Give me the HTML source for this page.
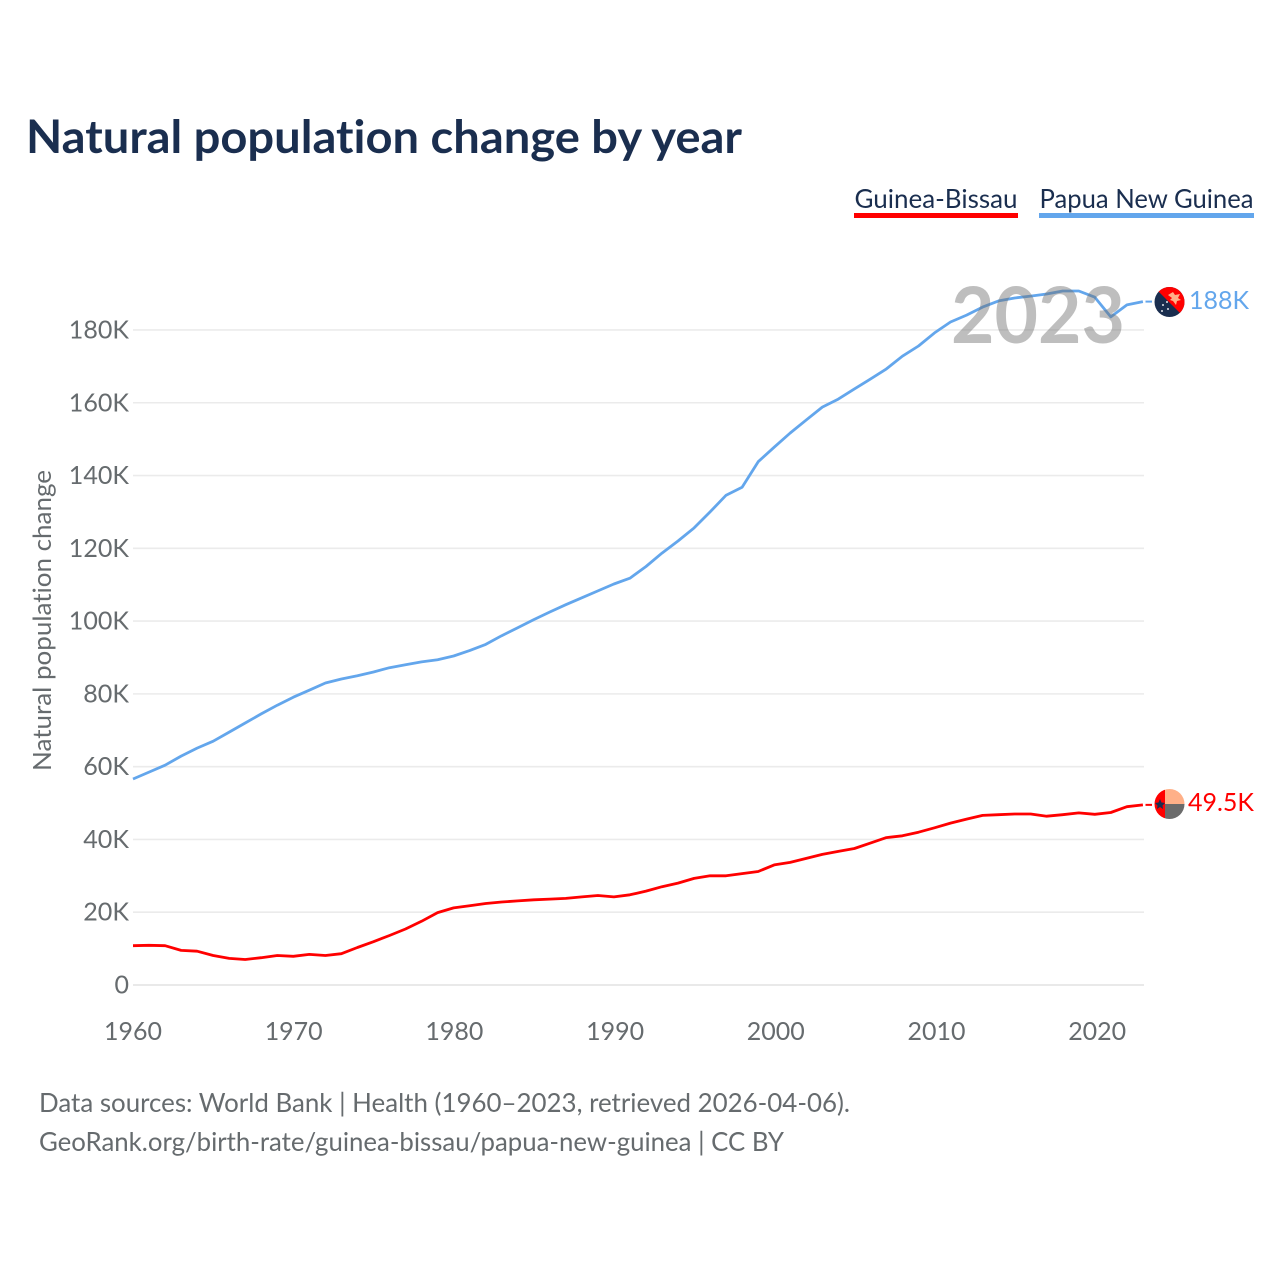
<!DOCTYPE html>
<html lang="en">
<head>
<meta charset="utf-8">
<title>Natural population change by year</title>
<style>
html,body{margin:0;padding:0;background:#fff;}
svg{display:block;}
text{font-family:"Lato","Carlito","Liberation Sans",sans-serif;font-variant-ligatures:none;font-feature-settings:"liga" 0,"clig" 0;}
</style>
</head>
<body>
<svg id="chart" xmlns="http://www.w3.org/2000/svg" width="1280" height="1280" viewBox="0 0 1280 1280">
  <defs>
    <clipPath id="flag-clip-pg"><circle cx="1169.5" cy="302" r="15"/></clipPath>
    <clipPath id="flag-clip-gw"><circle cx="1169.5" cy="804" r="15"/></clipPath>
  </defs>
  <rect x="0" y="0" width="1280" height="1280" fill="#fff"/>
  <text x="26" y="153" font-size="46" font-weight="700" fill="#1a2e4f" textLength="716" lengthAdjust="spacingAndGlyphs">Natural population change by year</text>

  <g>
    <g>
      <text x="854.5" y="208" font-size="26.5" fill="#1a2e4f" textLength="163" lengthAdjust="spacingAndGlyphs">Guinea-Bissau</text>
      <rect x="854" y="213" width="164" height="5" fill="#ff0000"/>
    </g>
    <g>
      <text x="1039.5" y="208" font-size="26.5" fill="#1a2e4f" textLength="214" lengthAdjust="spacingAndGlyphs">Papua New Guinea</text>
      <rect x="1039" y="213" width="215" height="5" fill="#63a6ec"/>
    </g>
  </g>

  <g id="grid"></g>
  <g id="yticks"></g>
  <g id="xticks"></g>
  <text transform="translate(51,620.5) rotate(-90)" text-anchor="middle" font-size="25.5" fill="#666b6e" textLength="301" lengthAdjust="spacingAndGlyphs">Natural population change</text>

  <g id="series"></g>

  <text x="951" y="343" font-size="78" font-weight="700" fill="#6e6e6e" fill-opacity="0.45" textLength="174" lengthAdjust="spacingAndGlyphs">2023</text>

  <g clip-path="url(#flag-clip-pg)">
    <rect x="1154" y="287" width="31" height="31" fill="#1a2e4f"/>
    <polygon points="1154,287 1185,287 1185,318" fill="#ff0000"/>
    <polygon points="1168,295 1173,292 1175,295 1180,294 1178,298 1181,300 1177,301 1176,305 1173,301 1170,300 1172,298" fill="#ffb088"/>
    <circle cx="1163" cy="305" r="1" fill="#e0e4ea"/>
    <circle cx="1167" cy="302" r="1" fill="#e0e4ea"/>
    <circle cx="1168" cy="309" r="1" fill="#e0e4ea"/>
    <circle cx="1162" cy="311" r="1" fill="#e0e4ea"/>
  </g>
  <g clip-path="url(#flag-clip-gw)">
    <rect x="1154" y="789" width="11" height="31" fill="#ff0000"/>
    <rect x="1165" y="789" width="20" height="15" fill="#ffb088"/>
    <rect x="1165" y="804" width="20" height="16" fill="#6b6b6b"/>
    <polygon points="1160,799 1161.5,802.5 1165,803 1162.5,805.5 1163,809 1160,807 1157,809 1157.5,805.5 1155,803 1158.5,802.5" fill="#1a2e4f"/>
  </g>

  <text x="1189" y="309" font-size="25.5" fill="#63a6ec" textLength="60" lengthAdjust="spacingAndGlyphs">188K</text>
  <text x="1188" y="811" font-size="25.5" fill="#ff0000" textLength="66" lengthAdjust="spacingAndGlyphs">49.5K</text>

  <g>
    <text x="39" y="1112" font-size="26.5" fill="#666b6e" textLength="811" lengthAdjust="spacingAndGlyphs">Data sources: World Bank | Health (1960–2023, retrieved 2026-04-06).</text>
    <text x="39" y="1151" font-size="26.5" fill="#666b6e" textLength="745" lengthAdjust="spacingAndGlyphs">GeoRank.org/birth-rate/guinea-bissau/papua-new-guinea | CC BY</text>
  </g>
</svg>
<script>
const yTickValues = [0, 20, 40, 60, 80, 100, 120, 140, 160, 180];
const xTickValues = [1960, 1970, 1980, 1990, 2000, 2010, 2020];
const startYear = 1960;
const papuaNewGuinea = [56.6,58.5,60.4,62.9,65.1,67,69.5,72,74.5,76.9,79.1,81,83,84.1,85,86,87.2,88,88.8,89.4,90.4,91.9,93.6,96,98.2,100.4,102.5,104.5,106.4,108.3,110.2,111.8,115,118.7,122,125.6,130,134.6,136.8,143.8,147.8,151.7,155.3,158.8,161,163.8,166.5,169.3,172.8,175.6,179.2,182.2,184.1,186.3,188,188.8,189.3,189.9,190.7,190.7,189,183.6,186.9,187.8];
const guineaBissau = [10.8,10.9,10.8,9.5,9.3,8.1,7.3,7,7.5,8.1,7.9,8.4,8.1,8.6,10.3,11.9,13.6,15.4,17.5,19.9,21.2,21.8,22.4,22.8,23.1,23.4,23.6,23.8,24.2,24.6,24.2,24.8,25.8,27,28,29.3,30,30,30.6,31.2,33,33.7,34.8,35.9,36.7,37.5,39,40.5,41,42,43.2,44.5,45.6,46.6,46.8,47,47,46.4,46.8,47.3,46.9,47.4,49,49.5];

const NS = 'http://www.w3.org/2000/svg';
const xScale = function (year) { return 133 + (year - 1960) * 16.03; };
const yScale = function (value) { return 985 - value * 3.639; };

function make(tag, parent, attrs) {
  const el = document.createElementNS(NS, tag);
  Object.keys(attrs).forEach(function (k) { el.setAttribute(k, attrs[k]); });
  parent.appendChild(el);
  return el;
}

const grid = document.getElementById('grid');
const yticks = document.getElementById('yticks');
const xticks = document.getElementById('xticks');
const series = document.getElementById('series');

yTickValues.forEach(function (v) {
  const line = make('line', grid, { x1: 133, x2: 1144, y1: yScale(v), y2: yScale(v), stroke: v === 0 ? '#e2e2e2' : '#ebebeb', 'stroke-width': 1.6 });
  
  
  const label = v === 0 ? '0' : v + 'K';
  const width = v === 0 ? 14.5 : String(v).length * 14.4 + 17;
  const text = make('text', yticks, { x: 129, y: yScale(v) + 8.5, 'text-anchor': 'end', 'font-size': 25.5, fill: '#666b6e', textLength: width, lengthAdjust: 'spacingAndGlyphs' });
  
  
  text.textContent = label;
});

xTickValues.forEach(function (year) {
  const text = make('text', xticks, { x: 133 + (year - 1960) * 16.07, y: 1040, 'text-anchor': 'middle', 'font-size': 25.5, fill: '#666b6e', textLength: 58, lengthAdjust: 'spacingAndGlyphs' });
  
  
  text.textContent = year;
});

function drawSeries(values, color, lineName, connectorName) {
  const pts = values.map(function (v, i) { return xScale(startYear + i).toFixed(1) + ',' + yScale(v).toFixed(1); });
  const line = make('polyline', series, { points: pts.join(' '), fill: 'none', stroke: color, 'stroke-width': 2.8, 'stroke-linejoin': 'round' });
  
  
  const last = yScale(values[values.length - 1]);
  const connector = make('line', series, { x1: 1145.5, x2: 1152, y1: last, y2: last, stroke: color, 'stroke-width': 2 });
  
  
}

drawSeries(papuaNewGuinea, '#63a6ec', 'line-papua-new-guinea', 'connector-papua-new-guinea');
drawSeries(guineaBissau, '#ff0000', 'line-guinea-bissau', 'connector-guinea-bissau');
</script>
</body>
</html>
